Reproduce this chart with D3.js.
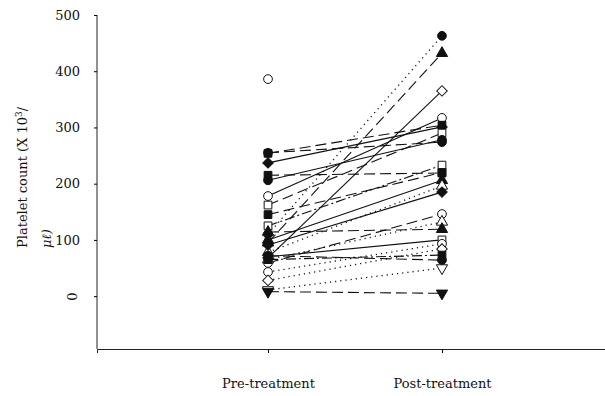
<!DOCTYPE html>
<html>
<head>
<meta charset="utf-8">
<script src="https://cdn.jsdelivr.net/npm/d3@7"></script>
<style>
  body { margin: 0; background: #fff; }
  text { font-family: "DejaVu Serif", serif; fill: #111; }
</style>
</head>
<body>
<div id="chart"></div>
<script>
const categories = ['Pre-treatment', 'Post-treatment'];
const yTicks = [0, 100, 200, 300, 400, 500];

// one entry per patient
const preValues  = [386, 110, 95, 68, 178, 254, 255, 237, 162, 215, 125, 100, 78, 91, 59, 65, 114, 70, 43, 28, 65, 72, 11, 8, 145, 206];
const postValues = [null, 463, 432, 365, 317, 304, 274, 301, 290, 219, 233, 206, 196, 185, 146, 132, 119, 100, 93, 84, 73, 64, 50, 5, 220, 278];
const markers = ['circle', 'circle', 'triangle', 'diamond', 'circle', 'square', 'circle', 'diamond', 'square', 'square', 'square', 'triangle', 'triangle', 'diamond', 'circle', 'triangle', 'triangle', 'square', 'circle', 'diamond', 'square', 'circle', 'down', 'down', 'square', 'circle'];
const filled = [false, true, true, false, false, true, true, true, false, true, false, true, false, true, false, false, true, false, false, false, true, true, false, true, true, true];
const lineStyle = ['none', 'dot', 'dash', 'solid', 'solid', 'dash', 'dash', 'solid', 'dash', 'dash', 'dashdot', 'solid', 'dot', 'solid', 'dash', 'dot', 'dash', 'solid', 'dot', 'dot', 'dashdot', 'dash', 'dot', 'dash', 'dash', 'solid'];

const width = 605, height = 396;
const dashes = { solid: null, dash: '11,5', dot: '1.2,4', dashdot: '10,3,2,3' };

const svg = d3.select('#chart').append('svg')
  .attr('width', width)
  .attr('height', height);

const x = d3.scalePoint()
  .domain(categories)
  .range([97, 613])
  .padding(0.983);

const y = d3.scaleLinear()
  .domain([-94, 500])
  .range([349, 15]);

// y axis
const yAxis = svg.append('g')
  .attr('transform', 'translate(97,0)')
  .call(d3.axisLeft(y).tickValues(yTicks).tickSize(3).tickSizeOuter(0).tickPadding(14));
yAxis.select('.domain').attr('d', 'M0,' + y(500) + 'V' + y(-94));
yAxis.selectAll('text').style('font-size', '13px').style('font-family', '"DejaVu Serif", serif');
yAxis.selectAll('.tick').filter(d => d === 0).select('text')
  .attr('text-anchor', 'middle')
  .attr('x', -24)
  .attr('dy', '0.32em')
  .attr('transform', 'rotate(-90,-24,0)');

// x axis
const xAxis = svg.append('g')
  .attr('transform', 'translate(0,349)')
  .call(d3.axisBottom(x).tickSize(4).tickSizeOuter(4).tickPadding(26));
xAxis.selectAll('text').style('font-size', '13px').style('font-family', '"DejaVu Serif", serif');
svg.selectAll('.domain').attr('stroke', '#222');

// y title
const title = svg.append('g').attr('transform', 'translate(27,248) rotate(-90)');
title.append('text')
  .style('font-size', '13px')
  .text('Platelet count (X 10')
  .append('tspan').attr('dy', -5).style('font-size', '9px').text('3');
title.select('text').append('tspan').attr('dy', 5).text('/');
title.append('text')
  .attr('y', 24)
  .style('font-size', '13px')
  .style('font-style', 'italic')
  .text('μℓ)');

// connecting lines
const subjects = preValues.map((v, i) => ({
  pre: v, post: postValues[i], marker: markers[i], filled: filled[i], style: lineStyle[i]
}));

svg.append('g').selectAll('line')
  .data(subjects.filter(d => d.post !== null && d.style !== 'none'))
  .join('line')
  .attr('x1', x(categories[0]))
  .attr('x2', x(categories[1]))
  .attr('y1', d => y(d.pre))
  .attr('y2', d => y(d.post))
  .attr('stroke', '#111')
  .attr('stroke-width', d => d.style === 'dot' ? 1.3 : 1.1)
  .attr('stroke-dasharray', d => dashes[d.style]);

const symbolPath = {
  circle: d3.symbol(d3.symbolCircle, 60)(),
  square: d3.symbol(d3.symbolSquare, 60)(),
  diamond: d3.symbol(d3.symbolSquare, 55)(),
  triangle: d3.symbol(d3.symbolTriangle, 55)(),
  down: d3.symbol(d3.symbolTriangle, 55)()
};
const symbolRotate = { circle: 0, square: 0, diamond: 45, triangle: 0, down: 180 };

const points = [];
subjects.forEach(d => {
  points.push({ cat: categories[0], v: d.pre, marker: d.marker, filled: d.filled });
  if (d.post !== null) points.push({ cat: categories[1], v: d.post, marker: d.marker, filled: d.filled });
});

svg.append('g').selectAll('path')
  .data(points)
  .join('path')
  .attr('d', d => symbolPath[d.marker])
  .attr('transform', d => 'translate(' + x(d.cat) + ',' + y(d.v) + ') rotate(' + symbolRotate[d.marker] + ')')
  .attr('fill', d => d.filled ? '#111' : '#fff')
  .attr('stroke', '#111')
  .attr('stroke-width', 1);
</script>
</body>
</html>
